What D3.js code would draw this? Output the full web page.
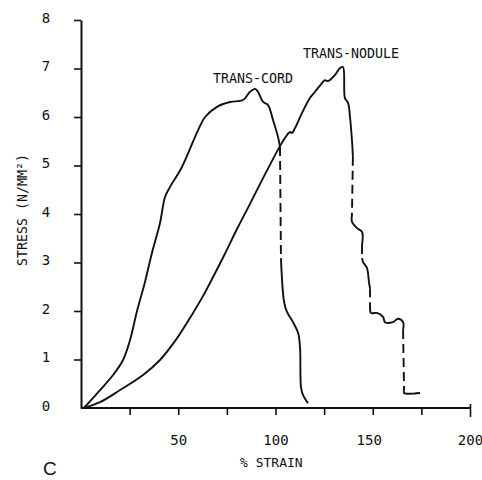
<!DOCTYPE html>
<html>
<head>
<meta charset="utf-8">
<script src="https://cdn.jsdelivr.net/npm/d3@7"></script>
<style>
  body { margin: 0; background: #fff; }
  .lbl { font-family: "DejaVu Sans Mono", monospace; fill: #111; }
</style>
</head>
<body>
<div id="graph"></div>
<script>
'use strict';

// TRANS-CORD curve (% strain, stress N/mm2)
const cordStrain = [1.5, 9.8, 16.5, 21.6, 25.2, 28.8, 32.9, 36.5, 40.6, 43.2, 45.8, 51.9, 60.2,
  63.8, 69.9, 76.6, 83.3, 86.9, 89.5, 91.0, 93.6, 96.1, 98.7, 101.3, 102.3, 102.8, 104.4, 105.9,
  109.0, 111.6, 112.6, 113.1, 114.1, 116.7];
const cordStress = [0, 0.37, 0.68, 0.99, 1.40, 2.00, 2.60, 3.20, 3.81, 4.35, 4.56, 4.97, 5.73,
  6.00, 6.21, 6.31, 6.35, 6.52, 6.58, 6.52, 6.31, 6.25, 5.94, 5.59, 5.38, 3.09, 2.19, 1.98,
  1.77, 1.55, 1.26, 0.43, 0.27, 0.10];
const cordDashed = [24]; // segment i joins point i and i+1

// TRANS-NODULE curve
const noduleStrain = [1.5, 9.8, 20.1, 31.9, 40.6, 49.4, 57.6, 62.2, 67.9, 74.0, 80.2, 86.9, 93.6, 102.3, 104.9,
  107.5, 108.5, 110.0, 113.6, 117.7, 120.3, 123.9, 125.4, 127.0, 130.6, 133.2, 134.7, 135.7, 137.3,
  138.3, 139.3, 139.8, 139.3, 139.3, 141.9, 144.5, 144.5, 144.5, 145.0, 147.0, 148.1, 148.6, 148.6,
  149.1, 152.2, 155.3, 156.3, 160.4, 163.0, 165.6, 165.6, 166.1, 166.1, 174.3];
const noduleStress = [0, 0.12, 0.37, 0.68, 0.99, 1.44, 1.96, 2.27, 2.70, 3.18, 3.69, 4.21, 4.74, 5.40, 5.57,
  5.69, 5.67, 5.77, 6.08, 6.39, 6.52, 6.70, 6.76, 6.74, 6.87, 7.01, 7.03, 6.39, 6.29,
  6.00, 5.53, 5.18, 3.98, 3.84, 3.71, 3.63, 3.36, 3.09, 3.01, 2.89, 2.58, 2.47, 2.06,
  1.96, 1.96, 1.88, 1.77, 1.77, 1.84, 1.77, 1.61, 0.37, 0.31, 0.31];
const noduleDashed = [31, 36, 41, 50];

// tick values
const yTicks = [0, 1, 2, 3, 4, 5, 6, 7, 8];
const xTicks = [25, 50, 75, 100, 125, 150, 175, 200];
const xTickLabels = [50, 100, 150, 200];

const svg = d3.select('#graph').append('svg')
  .attr('width', 482)
  .attr('height', 480);

const x = d3.scaleLinear().domain([0, 200]).range([81, 470]);
const y = d3.scaleLinear().domain([0, 8]).range([408, 20]);

// y axis
const yAxis = svg.append('g')
  .attr('transform', 'translate(81,0)')
  .call(d3.axisLeft(y).tickValues(yTicks).tickSize(7).tickSizeOuter(0));
yAxis.select('.domain').attr('stroke', '#111').attr('stroke-width', 2);
yAxis.selectAll('.tick line').attr('stroke', '#111').attr('stroke-width', 1.6)
  .attr('display', d => d === 0 ? 'none' : null);
yAxis.selectAll('.tick text')
  .attr('class', 'lbl')
  .attr('x', -35)
  .attr('dy', 2)
  .attr('text-anchor', 'middle')
  .style('font-size', '14px')
  .attr('font-family', null);

// x axis
const xAxis = svg.append('g')
  .attr('transform', 'translate(0,408)')
  .call(d3.axisBottom(x).tickValues(xTicks).tickSize(7).tickSizeOuter(0)
    .tickFormat(d => xTickLabels.includes(d) ? d : ''));
xAxis.select('.domain').attr('stroke', '#111').attr('stroke-width', 2)
  .attr('d', 'M' + x(0) + ',0H' + x(200));
xAxis.selectAll('.tick line').attr('stroke', '#111').attr('stroke-width', 1.6)
  .attr('y1', d => d === 200 ? -4 : 0)
  .attr('y2', d => d === 200 ? 9 : 7);
xAxis.selectAll('.tick text')
  .attr('class', 'lbl')
  .attr('y', 37)
  .attr('dy', 0)
  .attr('dx', d => d === 150 ? -4 : 0)
  .style('font-size', '14px')
  .attr('font-family', null);

// curves: split into solid and dashed runs
function drawCurve(xs, ys, dashed) {
  const pts = xs.map((v, i) => [v, ys[i]]);
  const line = d3.line()
    .x(d => x(d[0]))
    .y(d => y(d[1]))
    .curve(d3.curveCatmullRom.alpha(0.5));
  let run = [pts[0]];
  let runDashed = dashed.includes(0);
  for (let i = 0; i < pts.length - 1; i++) {
    const segDashed = dashed.includes(i);
    if (segDashed !== runDashed) {
      drawRun(run, runDashed);
      run = [pts[i]];
      runDashed = segDashed;
    }
    run.push(pts[i + 1]);
  }
  drawRun(run, runDashed);

  function drawRun(r, isDashed) {
    svg.append('path')
      .datum(r)
      .attr('d', isDashed ? d3.line().x(d => x(d[0])).y(d => y(d[1]))(r) : line(r))
      .attr('fill', 'none')
      .attr('stroke', '#111')
      .attr('stroke-width', 1.9)
      .attr('stroke-linejoin', 'round')
      .attr('stroke-dasharray', isDashed ? '9,5' : null);
  }
}

drawCurve(cordStrain, cordStress, cordDashed);
drawCurve(noduleStrain, noduleStress, noduleDashed);

// labels
svg.append('text').attr('class', 'lbl')
  .attr('x', 213).attr('y', 83)
  .style('font-size', '13.3px')
  .text('TRANS-CORD');

svg.append('text').attr('class', 'lbl')
  .attr('x', 303).attr('y', 58)
  .style('font-size', '13.3px')
  .text('TRANS-NODULE');

svg.append('text').attr('class', 'lbl')
  .attr('transform', 'translate(27,210)rotate(-90)')
  .attr('text-anchor', 'middle')
  .style('font-size', '13.3px')
  .text('STRESS (N/MM²)');

svg.append('text').attr('class', 'lbl')
  .attr('x', 240).attr('y', 467)
  .style('font-size', '13px')
  .text('% STRAIN');

svg.append('text')
  .attr('x', 43).attr('y', 475)
  .style('font-family', '"Liberation Sans", Arial, sans-serif')
  .style('font-size', '19px')
  .attr('fill', '#111')
  .text('C');
</script>
</body>
</html>
